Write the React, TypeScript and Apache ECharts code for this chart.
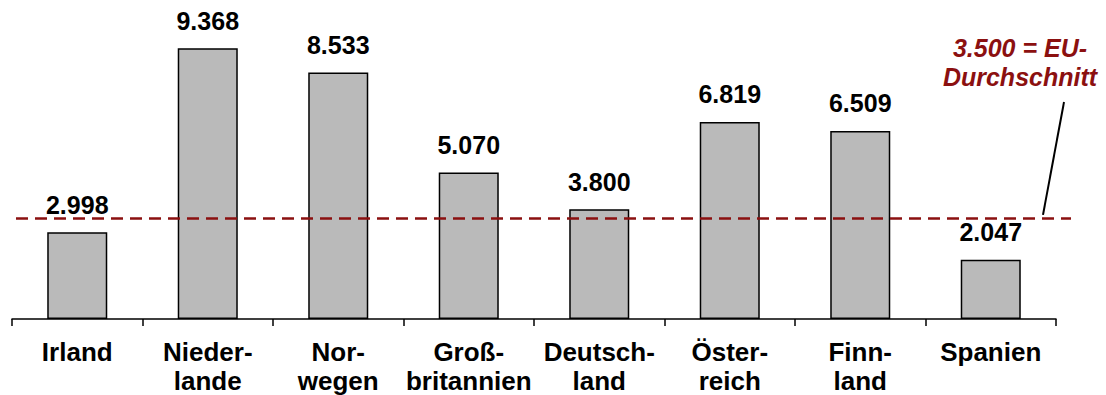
import React, { useEffect, useRef } from "react";
import * as echarts from "echarts";

// Countries (two-line labels with hyphenation) and their values
const categories = [
  "Irland",
  "Nieder-\nlande",
  "Nor-\nwegen",
  "Groß-\nbritannien",
  "Deutsch-\nland",
  "Öster-\nreich",
  "Finn-\nland",
  "Spanien",
];
const values = [2.998, 9.368, 8.533, 5.07, 3.8, 6.819, 6.509, 2.047];

// EU average reference
const euAverage = 3.5;
const euLabel = ["3.500 = EU-", "Durchschnitt"];

const DARK_RED = "#8b1010";
const FONT = "'Liberation Sans', Arial, sans-serif";

const fmt = (v: number) => v.toFixed(3);

export default function App() {
  const ref = useRef<HTMLDivElement>(null);

  useEffect(() => {
    if (!ref.current) return;
    const chart = echarts.init(ref.current, null, { renderer: "svg" });

    chart.setOption({
      animation: false,
      grid: { left: 12, right: 50, top: 30, bottom: 71.5, containLabel: false },
      xAxis: {
        type: "category",
        data: categories,
        axisLine: { lineStyle: { color: "#000", width: 1.5 } },
        axisTick: { show: true, length: 7, lineStyle: { color: "#000", width: 1.5 } },
        axisLabel: {
          interval: 0,
          margin: 18,
          color: "#000",
          fontFamily: FONT,
          fontWeight: "bold",
          fontSize: 26,
          lineHeight: 29,
        },
      },
      yAxis: {
        type: "value",
        min: 0,
        max: 10,
        show: false,
        splitLine: { show: false },
      },
      series: [
        {
          type: "bar",
          data: values,
          barWidth: "46%",
          itemStyle: { color: "#bababa", borderColor: "#000", borderWidth: 1.5 },
          label: {
            show: true,
            position: "top",
            distance: 15,
            formatter: (p: any) => fmt(p.value),
            color: "#000",
            fontFamily: FONT,
            fontWeight: "bold",
            fontSize: 25,
          },
          markLine: {
            silent: true,
            symbol: "none",
            z: 10,
            label: { show: false },
            lineStyle: { color: DARK_RED, width: 2.5, type: [12, 7] },
            data: [[{ yAxis: euAverage, x: 16 }, { yAxis: euAverage, x: 1071 }]],
          },
        },
      ],
    });

    // Leader line and annotation for the EU average
    const yAvg = chart.convertToPixel({ yAxisIndex: 0 } as any, euAverage) as number;
    chart.setOption({
      graphic: [
        {
          type: "line",
          shape: { x1: 1043, y1: yAvg - 3, x2: 1064, y2: 102 },
          style: { stroke: "#000", lineWidth: 2 },
        },
        {
          type: "text",
          x: 1020,
          y: 33,
          style: {
            text: euLabel.join("\n"),
            fill: DARK_RED,
            font: `italic bold 25px ${FONT}`,
            lineHeight: 29,
            align: "center",
            verticalAlign: "top",
          },
        },
      ],
    });

    return () => chart.dispose();
  }, []);

  return <div ref={ref} style={{ width: 1106, height: 395, position: "absolute", left: 0, top: 0 }} />;
}
